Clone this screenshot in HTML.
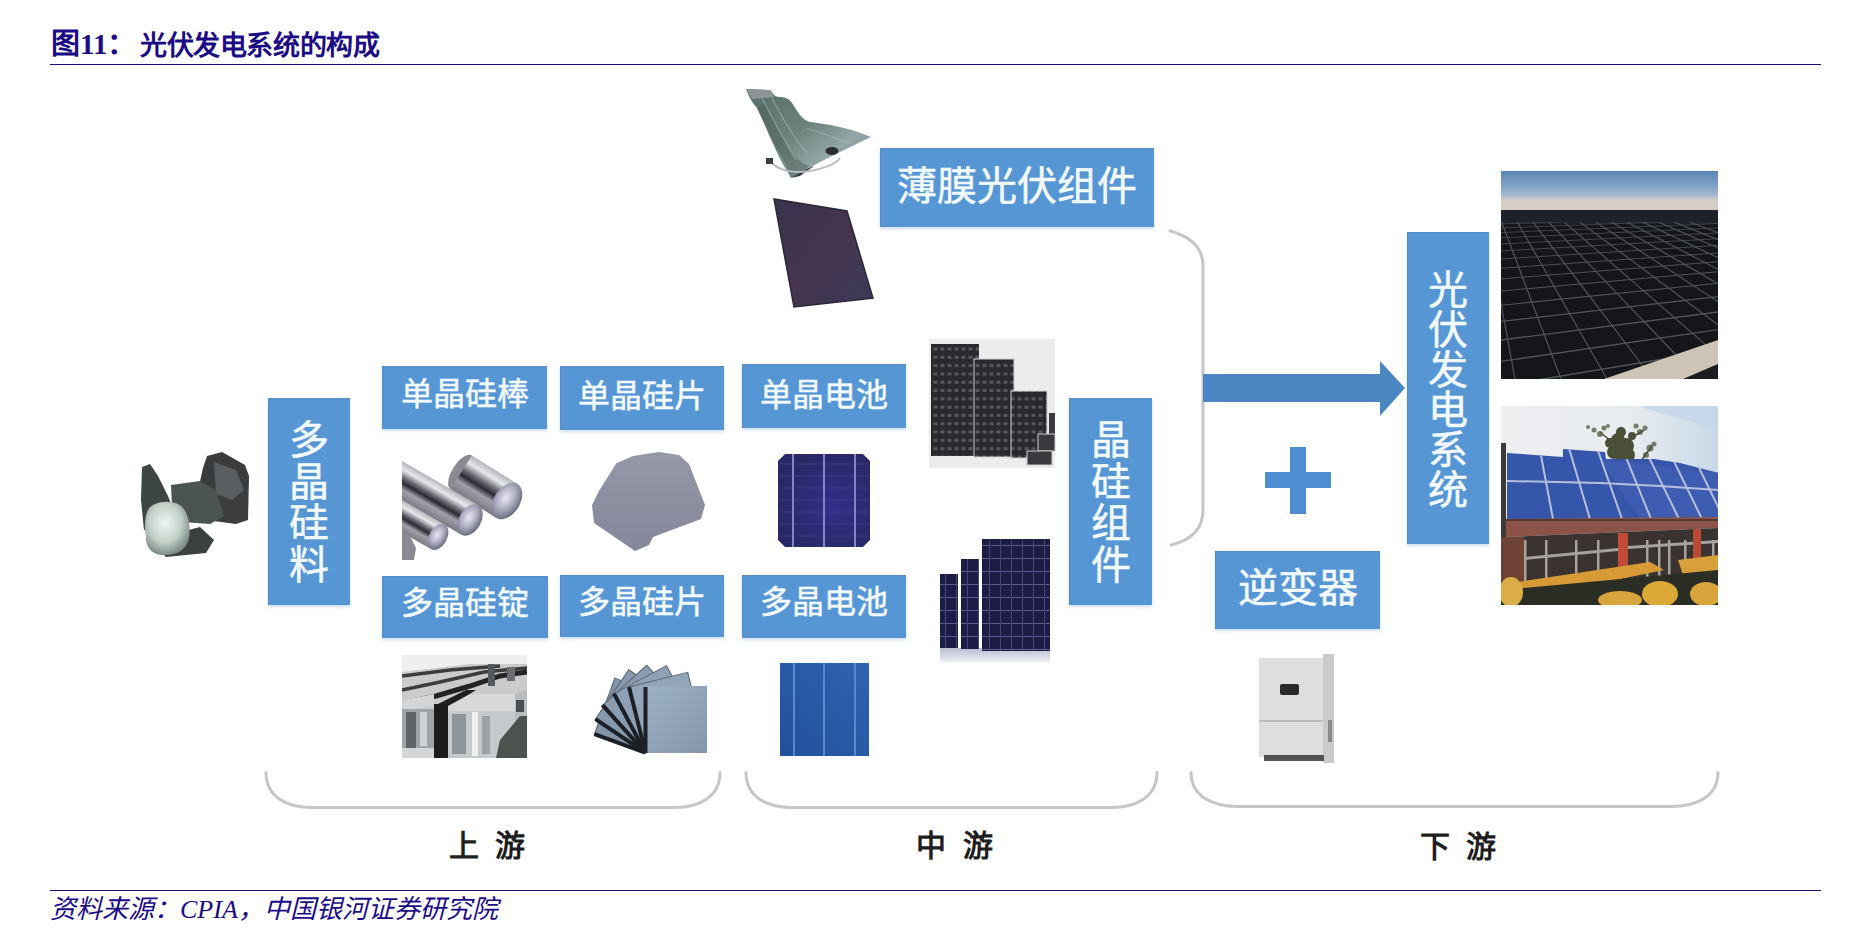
<!DOCTYPE html>
<html lang="zh-CN">
<head>
<meta charset="utf-8">
<style>
html,body{margin:0;padding:0;background:#fff;}
body{width:1872px;height:944px;position:relative;overflow:hidden;font-family:"Liberation Serif",serif;}
.a{position:absolute;}
.title{left:51px;top:25px;font-size:29px;font-weight:bold;color:#1b0b84;white-space:nowrap;line-height:38px;}
.hr{left:50px;width:1771px;height:1px;background:#1b0b84;}
.src{left:50px;top:893px;font-size:26px;font-style:italic;color:#1b0b84;white-space:nowrap;line-height:34px;}
.box{position:absolute;background:#5796d4;color:#f2faff;text-align:center;box-shadow:inset 1px 1px 0 rgba(90,120,160,.35),0 2px 3px rgba(170,200,235,.6);}
.h{font-size:32px;line-height:32px;-webkit-text-stroke:0.5px #f2faff;}
.v{font-size:40px;line-height:40px;-webkit-text-stroke:0.5px #f2faff;}
.vv{font-size:40px;line-height:41.5px;-webkit-text-stroke:0.5px #f2faff;}
.lbl{position:absolute;font-size:30px;font-weight:bold;color:#1e1e1e;white-space:nowrap;line-height:30px;}
svg{position:absolute;left:0;top:0;}
</style>
</head>
<body>
<div class="a title">图11：</div><div class="a title" style="left:140px;top:27px;font-size:27px;letter-spacing:-0.4px;">光伏发电系统的构成</div>
<div class="a hr" style="top:64px"></div>

<svg width="1872" height="944" viewBox="0 0 1872 944">
 <!-- braces -->
 <g fill="none" stroke="#c6c6c8" stroke-width="3" stroke-linecap="round">
  <path d="M1170,231 C1192,237 1203,249 1203,266 L1203,510 C1203,528 1192,540 1171,545"/>
  <path d="M266,772.5 C266,797 287,807.5 312,807.5 L674,807.5 C699,807.5 720,797 720,772.5"/>
  <path d="M746,772.5 C746,797 767,807.5 792,807.5 L1111,807.5 C1136,807.5 1157,797 1157,772.5"/>
  <path d="M1191,772.5 C1191,796 1212,806.5 1238,806.5 L1672,806.5 C1697,806.5 1718,796 1718,772.5"/>
 </g>
 <!-- arrow -->
 <path d="M1203,374 L1380,374 L1380,361 L1405,388 L1380,416 L1380,402 L1203,402 Z" fill="#4a86c2"/>
 <!-- plus -->
 <rect x="1290" y="447" width="16" height="67" fill="#4e8dd0"/>
 <rect x="1265" y="472" width="66" height="16" fill="#4e8dd0"/>
</svg>


<!-- IMAGES -->
<svg width="1872" height="944" viewBox="0 0 1872 944">
 <defs>
  <radialGradient id="gPolyLight" cx="0.45" cy="0.4" r="0.6">
   <stop offset="0" stop-color="#eef5f1"/><stop offset="0.6" stop-color="#c2d0c8"/><stop offset="1" stop-color="#7d8c85"/>
  </radialGradient>
  <linearGradient id="gRod" x1="0" y1="0" x2="0" y2="1">
   <stop offset="0" stop-color="#b4b4ba"/><stop offset="0.2" stop-color="#e8e8ec"/><stop offset="0.4" stop-color="#6c6c76"/>
   <stop offset="0.55" stop-color="#2a2a34"/><stop offset="0.72" stop-color="#a0a0aa"/><stop offset="1" stop-color="#7a7a86"/>
  </linearGradient>
  <radialGradient id="gCap" cx="0.4" cy="0.45" r="0.6">
   <stop offset="0" stop-color="#e8e8f2"/><stop offset="0.5" stop-color="#b0b0c4"/><stop offset="1" stop-color="#6a6a7c"/>
  </radialGradient>
  <linearGradient id="gWafer" x1="0" y1="0" x2="0" y2="1">
   <stop offset="0" stop-color="#9698a8"/><stop offset="1" stop-color="#84869a"/>
  </linearGradient>
  <linearGradient id="gTF" x1="0" y1="0" x2="1" y2="1">
   <stop offset="0" stop-color="#38344e"/><stop offset="0.5" stop-color="#46344e"/><stop offset="1" stop-color="#3a3a58"/>
  </linearGradient>
  <linearGradient id="gFlex" x1="0" y1="0" x2="1" y2="1">
   <stop offset="0" stop-color="#566c64"/><stop offset="0.45" stop-color="#6c847c"/><stop offset="0.7" stop-color="#94a6a8"/><stop offset="1" stop-color="#727a88"/>
  </linearGradient>
  <linearGradient id="gSky" x1="0" y1="0" x2="0" y2="1">
   <stop offset="0" stop-color="#5a84b6"/><stop offset="0.5" stop-color="#7ea0c4"/><stop offset="1" stop-color="#b4c4d4"/>
  </linearGradient>
  <linearGradient id="gSky2" x1="0" y1="0" x2="1" y2="0">
   <stop offset="0" stop-color="#eceef0"/><stop offset="0.6" stop-color="#e8ebef"/><stop offset="1" stop-color="#c8d8e8"/>
  </linearGradient>
  <linearGradient id="gWaferB" x1="0" y1="0" x2="1" y2="1">
   <stop offset="0" stop-color="#9cb0c4"/><stop offset="1" stop-color="#8496ac"/>
  </linearGradient>
  <radialGradient id="gMonoCell" cx="0.6" cy="0.55" r="0.6">
   <stop offset="0" stop-color="#32308a"/><stop offset="1" stop-color="#2a2864"/>
  </radialGradient>
  <linearGradient id="gPolyCell" x1="0" y1="1" x2="1" y2="0">
   <stop offset="0" stop-color="#22509c"/><stop offset="1" stop-color="#2e64b0"/>
  </linearGradient>
  <linearGradient id="gRefl" x1="0" y1="0" x2="0" y2="1">
   <stop offset="0" stop-color="#b8bccc"/><stop offset="1" stop-color="#eeeef4"/>
  </linearGradient>
  <pattern id="pMono" x="932" y="345" width="7" height="8.3" patternUnits="userSpaceOnUse">
   <rect width="7" height="8.3" fill="#2a2a2e"/><rect x="1.5" y="2.5" width="4" height="3" fill="#56565c"/>
  </pattern>
  <pattern id="pPoly" x="0" y="0" width="11" height="13" patternUnits="userSpaceOnUse">
   <rect width="11" height="13" fill="#1c1c44"/><rect x="0" y="12" width="11" height="1" fill="#5a5a90"/><rect x="10" y="0" width="1" height="13" fill="#44447a"/>
  </pattern>
 </defs>

 <!-- 1 polysilicon chunks -->
 <g>
  <polygon points="142,467 150,464 158,476 168,496 174,512 160,526 144,530 141,500" fill="#3c4541"/>
  <polygon points="207,456 222,452 245,465 249,476 248,520 236,524 214,521 204,505 199,486 203,468" fill="#3a3c3e"/>
  <polygon points="214,462 236,470 244,490 232,500 216,494" fill="#5a5e60"/>
  <polygon points="171,485 200,481 216,490 224,516 210,524 182,522 172,506" fill="#4b544f"/>
  <polygon points="150,540 200,527 214,540 206,553 166,557" fill="#3c403e"/>
  <path d="M147,512 C150,503 165,499 178,504 C188,509 191,524 189,538 C187,550 176,556 162,555 C150,554 145,545 146,535 C144,528 145,518 147,512 Z" fill="url(#gPolyLight)"/>
 </g>

 <!-- 2 mono rods -->
 <clipPath id="cRods"><rect x="402" y="440" width="140" height="125"/></clipPath>
 <g clip-path="url(#cRods)">
  <g transform="translate(507,501) rotate(32)">
   <ellipse cx="-54" cy="0" rx="9" ry="20" fill="#8a8a92"/>
   <rect x="-54" y="-20" width="54" height="40" fill="url(#gRod)"/>
   <ellipse cx="0" cy="0" rx="13" ry="20" fill="url(#gCap)"/>
  </g>
  <g transform="translate(470,520) rotate(30)">
   <rect x="-90" y="-17" width="90" height="34" fill="url(#gRod)"/>
   <ellipse cx="0" cy="0" rx="11" ry="17" fill="url(#gCap)"/>
  </g>
  <g transform="translate(438,537) rotate(30)">
   <rect x="-60" y="-14" width="60" height="28" fill="url(#gRod)"/>
   <ellipse cx="0" cy="0" rx="9" ry="14" fill="url(#gCap)"/>
  </g>
  <polygon points="402,532 410,536 416,548 414,560 402,560" fill="#8a8a94"/>
 </g>

 <!-- 3 mono wafer -->
 <polygon points="617,463 633,456 659,452 679,455 689,464 705,505 701,519 653,537 649,545 635,551 594,523 592,505 598,493" fill="url(#gWafer)"/>
 <polyline points="598,493 617,463" stroke="#9ea0ae" stroke-width="1" fill="none"/>

 <!-- 4 mono cell -->
 <g>
  <polygon points="785,454 863,454 870,461 870,540 863,547 785,547 778,540 778,461" fill="url(#gMonoCell)"/>
  <g stroke="#4a48a0" stroke-width="0.8" opacity="0.7"><line x1="779" y1="464" x2="869" y2="464"/><line x1="779" y1="476" x2="869" y2="476"/><line x1="779" y1="488" x2="869" y2="488"/><line x1="779" y1="500" x2="869" y2="500"/><line x1="779" y1="512" x2="869" y2="512"/><line x1="779" y1="524" x2="869" y2="524"/><line x1="779" y1="536" x2="869" y2="536"/></g>
  <rect x="792" y="454" width="2" height="93" fill="#8482c8"/>
  <rect x="823" y="454" width="2" height="93" fill="#8482c8"/>
  <rect x="854" y="454" width="2" height="93" fill="#8482c8"/>
 </g>

 <!-- 5 poly ingots -->
 <clipPath id="cIngot"><rect x="402" y="655" width="125" height="103"/></clipPath>
 <g clip-path="url(#cIngot)">
  <rect x="402" y="655" width="125" height="103" fill="#eeefef"/>
  <polygon points="402,672 470,664 527,664 527,702 402,712" fill="#c9cbcd"/>
  <g stroke="#3a3c3e" stroke-width="3.5" fill="none">
   <path d="M402,690 L440,682 L484,672 L527,668"/>
   <path d="M402,676 L450,670 L500,666"/>
  </g>
  <g stroke="#222426" stroke-width="5" fill="none">
   <path d="M402,703 L436,696 L470,686 L500,676 L527,672"/>
  </g>
  <rect x="488" y="664" width="7" height="22" fill="#555a5e"/>
  <rect x="507" y="667" width="8" height="14" fill="#6a6e72"/>
  <polygon points="434,706 466,690 476,690 448,708" fill="#1e2022"/>
  <rect x="434" y="704" width="14" height="54" fill="#1a1c1e"/>
  <polygon points="448,706 470,694 515,694 515,712 448,712" fill="#d6d8da"/>
  <rect x="448" y="711" width="68" height="47" fill="#c6cacc"/>
  <rect x="452" y="714" width="14" height="40" fill="#8e969c"/>
  <rect x="472" y="712" width="6" height="44" fill="#eef0f0"/>
  <rect x="482" y="716" width="8" height="38" fill="#9aa2a8"/>
  <polygon points="402,700 434,694 434,706 402,710" fill="#d2d4d6"/>
  <rect x="402" y="709" width="32" height="40" fill="#9ea4a8"/>
  <rect x="406" y="712" width="10" height="36" fill="#5e6468"/>
  <rect x="420" y="712" width="7" height="34" fill="#d0d4d6"/>
  <rect x="402" y="748" width="32" height="10" fill="#d4d6d6"/>
  <polygon points="515,694 527,690 527,758 515,758" fill="#b8bcbe"/>
  <polygon points="500,740 520,716 527,716 527,758 496,758" fill="#4c524e"/>
  <rect x="516" y="700" width="8" height="12" fill="#4a4e52"/>
 </g>

 <!-- 6 poly wafer fan -->
 <g transform="translate(645,753)">
  <g transform="rotate(-70)"><rect x="0" y="-54" width="60" height="54" fill="#8294a8" stroke="#5a6672" stroke-width="1"/><rect x="-1.5" y="-54" width="4" height="54" fill="#1c2026"/></g><g transform="rotate(-56)"><rect x="0" y="-60" width="60" height="60" fill="#8698ac" stroke="#5a6672" stroke-width="1"/><rect x="-1.5" y="-60" width="4" height="60" fill="#1c2026"/></g><g transform="rotate(-42)"><rect x="0" y="-64" width="60" height="64" fill="#8a9cb0" stroke="#5a6672" stroke-width="1"/><rect x="-1.5" y="-64" width="4" height="64" fill="#1c2026"/></g><g transform="rotate(-28)"><rect x="0" y="-67" width="60" height="67" fill="#8ea0b4" stroke="#5a6672" stroke-width="1"/><rect x="-1.5" y="-67" width="4" height="67" fill="#1c2026"/></g><g transform="rotate(-14)"><rect x="0" y="-68" width="61" height="68" fill="#92a4b8" stroke="#5a6672" stroke-width="1"/><rect x="-1.5" y="-68" width="4" height="68" fill="#1c2026"/></g>
  <rect x="1" y="-67" width="61" height="67" fill="url(#gWaferB)"/>
  <rect x="-1.5" y="-66" width="4" height="66" fill="#1c2026"/>
 </g>

 <!-- 7 poly cell -->
 <g>
  <rect x="780" y="663" width="89" height="93" fill="url(#gPolyCell)"/>
  <rect x="793" y="663" width="2" height="93" fill="#5a88c8"/>
  <rect x="823" y="663" width="2" height="93" fill="#5a88c8"/>
  <rect x="854" y="663" width="2" height="93" fill="#5a88c8"/>
 </g>

 <!-- 8 mono modules -->
 <g>
  <rect x="929" y="339" width="126" height="129" fill="#ececec"/>
  <rect x="931" y="344" width="48" height="112" fill="url(#pMono)"/>
  <rect x="974" y="359" width="40" height="98" fill="url(#pMono)" stroke="#cfcfcf" stroke-width="1"/>
  <rect x="1011" y="391" width="36" height="67" fill="url(#pMono)" stroke="#cfcfcf" stroke-width="1"/>
  <rect x="1049" y="413" width="6" height="22" fill="#3a3a3e"/>
  <rect x="1038" y="434" width="17" height="17" fill="#3a3a3e" stroke="#cfcfcf" stroke-width="1"/>
  <rect x="1027" y="451" width="25" height="14" fill="#3a3a3e" stroke="#cfcfcf" stroke-width="1"/>
 </g>

 <!-- 9 poly modules -->
 <g>
  <rect x="940" y="648" width="110" height="14" fill="url(#gRefl)"/>
  <rect x="940" y="574" width="18" height="74" fill="url(#pPoly)"/>
  <rect x="961" y="559" width="18" height="90" fill="url(#pPoly)"/>
  <rect x="982" y="539" width="68" height="112" fill="url(#pPoly)"/>
 </g>

 <!-- 10 flexible thin film -->
 <path d="M746,89 L770,90 C773,93 774,96 778,97 C784,97 789,98 792,103 C797,111 802,120 810,122 C825,124 845,126 871,137 C860,142 850,147 838,153 C820,162 805,170 791,178 C786,170 780,160 775,148 C768,133 762,118 757,108 C754,104 750,100 746,89 Z" fill="url(#gFlex)"/>
 <path d="M757,108 C765,125 772,140 778,150 C784,160 788,170 791,178 C797,174 803,170 810,166 C798,164 790,150 783,138 C776,126 770,114 765,104 Z" fill="#50625c" opacity="0.55"/>
 <g stroke="#a8bcb8" stroke-width="1.3" opacity="0.55" fill="none">
  <path d="M762,98 C772,118 784,140 796,160"/>
  <path d="M772,98 C782,118 794,138 808,155"/>
  <path d="M806,128 C820,132 835,138 850,143"/>
 </g>
 <path d="M746,89 L770,90 C772,93 773,95 775,97 L752,99 Z" fill="#8c9696"/>
 <path d="M791,178 C800,172 808,168 814,166 L800,176 Z" fill="#3a4240"/>
 <ellipse cx="832" cy="151" rx="6.5" ry="4" fill="#2a2e32"/>
 <path d="M771,162 C778,170 792,174 810,171 C826,168 836,164 840,158" stroke="#b8bcc0" stroke-width="2" fill="none"/>
 <rect x="766" y="158" width="7" height="6" fill="#3a3e42"/>

 <!-- 11 glass thin film -->
 <polygon points="774,199 847,211 873,298 794,307" fill="url(#gTF)" stroke="#2a2838" stroke-width="1.5"/>

 <!-- 12 solar farm photo -->
 <g>
  <rect x="1501" y="171" width="217" height="208" fill="#141619"/>
  <rect x="1501" y="171" width="217" height="28" fill="url(#gSky)"/>
  <rect x="1501" y="198" width="217" height="12" fill="#d4cec4"/>
  <rect x="1501" y="197" width="217" height="3" fill="#c4c8cc" opacity="0.7"/>
  <rect x="1501" y="210" width="217" height="14" fill="#1e2229"/>
  <clipPath id="cFarm"><rect x="1501" y="222" width="217" height="157"/></clipPath>
  <g stroke="#50545a" fill="none" clip-path="url(#cFarm)">
   <g stroke-width="1.2">
<line x1="1454.7" y1="222" x2="1423.0" y2="379"/>
<line x1="1470.3" y1="222" x2="1469.0" y2="379"/>
<line x1="1486.0" y1="222" x2="1515.0" y2="379"/>
<line x1="1501.6" y1="222" x2="1561.0" y2="379"/>
<line x1="1517.3" y1="222" x2="1607.0" y2="379"/>
<line x1="1532.9" y1="222" x2="1653.0" y2="379"/>
<line x1="1548.6" y1="222" x2="1699.0" y2="379"/>
<line x1="1564.3" y1="222" x2="1745.0" y2="379"/>
<line x1="1579.9" y1="222" x2="1791.0" y2="379"/>
<line x1="1595.6" y1="222" x2="1837.0" y2="379"/>
<line x1="1611.2" y1="222" x2="1883.0" y2="379"/>
<line x1="1626.9" y1="222" x2="1929.0" y2="379"/>
<line x1="1642.5" y1="222" x2="1975.0" y2="379"/>
<line x1="1658.2" y1="222" x2="2021.0" y2="379"/>
<line x1="1673.8" y1="222" x2="2067.0" y2="379"/>
<line x1="1689.5" y1="222" x2="2113.0" y2="379"/>
   </g>
<line x1="1501" y1="224.0" x2="1718" y2="216.4" stroke-width="0.63"/>
<line x1="1501" y1="228.0" x2="1718" y2="219.7" stroke-width="0.66"/>
<line x1="1501" y1="232.6" x2="1718" y2="223.5" stroke-width="0.68"/>
<line x1="1501" y1="237.9" x2="1718" y2="227.9" stroke-width="0.71"/>
<line x1="1501" y1="244.0" x2="1718" y2="232.9" stroke-width="0.75"/>
<line x1="1501" y1="251.0" x2="1718" y2="238.6" stroke-width="0.79"/>
<line x1="1501" y1="259.0" x2="1718" y2="245.3" stroke-width="0.83"/>
<line x1="1501" y1="268.3" x2="1718" y2="252.9" stroke-width="0.88"/>
<line x1="1501" y1="278.9" x2="1718" y2="261.7" stroke-width="0.94"/>
<line x1="1501" y1="291.1" x2="1718" y2="271.7" stroke-width="1.01"/>
<line x1="1501" y1="305.2" x2="1718" y2="283.3" stroke-width="1.09"/>
<line x1="1501" y1="321.4" x2="1718" y2="296.7" stroke-width="1.18"/>
<line x1="1501" y1="340.0" x2="1718" y2="312.0" stroke-width="1.29"/>
<line x1="1501" y1="361.4" x2="1718" y2="329.6" stroke-width="1.41"/>
<line x1="1501" y1="386.0" x2="1718" y2="349.9" stroke-width="1.50"/>
<line x1="1501" y1="414.3" x2="1718" y2="374.0" stroke-width="1.50"/>
  </g>
  <polygon points="1604,379 1718,340 1718,379" fill="#cdc4b6"/>
  <polygon points="1683,379 1718,364 1718,379" fill="#1a1c20"/>
 </g>

 <!-- 13 rooftop photo -->
 <clipPath id="cPhoto2"><rect x="1501" y="406" width="217" height="199"/></clipPath>
 <g clip-path="url(#cPhoto2)">
  <rect x="1501" y="406" width="217" height="199" fill="url(#gSky2)"/>
  <path d="M1640,406 L1718,406 L1718,430 C1690,420 1660,414 1640,406 Z" fill="#c4d6ea" opacity="0.8"/>
  <g><circle cx="1618" cy="440" r="7" fill="#4a5038"/><circle cx="1626" cy="446" r="8" fill="#4a5038"/><circle cx="1614" cy="452" r="7" fill="#4a5038"/><circle cx="1628" cy="455" r="7" fill="#4a5038"/><circle cx="1621" cy="432" r="5" fill="#4a5038"/><circle cx="1632" cy="436" r="4" fill="#4a5038"/><circle cx="1610" cy="443" r="5" fill="#4a5038"/><circle cx="1622" cy="458" r="6" fill="#4a5038"/><circle cx="1600" cy="434" r="3" fill="#5a6048" opacity="0.8"/><circle cx="1594" cy="430" r="2.5" fill="#5a6048" opacity="0.8"/><circle cx="1588" cy="427" r="2" fill="#5a6048" opacity="0.8"/><circle cx="1604" cy="428" r="2.5" fill="#5a6048" opacity="0.8"/><circle cx="1640" cy="432" r="3" fill="#5a6048" opacity="0.8"/><circle cx="1645" cy="428" r="2.5" fill="#5a6048" opacity="0.8"/><circle cx="1650" cy="448" r="3.5" fill="#5a6048" opacity="0.8"/><circle cx="1654" cy="444" r="2.5" fill="#5a6048" opacity="0.8"/><circle cx="1646" cy="455" r="3" fill="#5a6048" opacity="0.8"/><circle cx="1636" cy="426" r="2.5" fill="#5a6048" opacity="0.8"/><circle cx="1608" cy="426" r="2" fill="#5a6048" opacity="0.8"/><path d="M1620,462 L1619,440 M1619,448 L1600,432 M1622,444 L1644,430 M1640,462 L1652,446" stroke="#4a4e3a" stroke-width="1.5" fill="none"/></g>
  <rect x="1501" y="443" width="5" height="162" fill="#3e3a36"/>
  <polygon points="1507,453 1563,457 1563,449 1605,452 1606,459 1654,459 1680,463 1719,473 1719,519 1507,519" fill="#3656ac"/>
  <polygon points="1600,459 1719,473 1719,519 1640,519" fill="#4460b4" opacity="0.6"/>
  <clipPath id="cRoof"><polygon points="1507,453 1563,457 1563,449 1605,452 1606,459 1654,459 1680,463 1719,473 1719,519 1507,519"/></clipPath>
  <g stroke="#b4c0dc" stroke-width="2" fill="none" clip-path="url(#cRoof)">
   <path d="M1507,481 L1600,483 L1660,486 L1719,490"/>
   <line x1="1553" y1="519" x2="1539" y2="445"/><line x1="1590" y1="519" x2="1568" y2="445"/><line x1="1622" y1="519" x2="1596" y2="445"/><line x1="1651" y1="519" x2="1621" y2="445"/><line x1="1679" y1="519" x2="1643" y2="445"/><line x1="1702" y1="519" x2="1666" y2="445"/><line x1="1724" y1="519" x2="1688" y2="445"/>
  </g>
  <polygon points="1506,519 1719,517 1719,528 1506,537" fill="#8c5448"/>
  <rect x="1506" y="519" width="213" height="2" fill="#5a3a34"/>
  <polygon points="1506,537 1719,528 1719,575 1506,585" fill="#3a3330"/>
  <polygon points="1524,557 1618,548 1618,551 1524,560" fill="#a4a49c"/>
  <polygon points="1628,546 1719,540 1719,543 1628,549" fill="#a4a49c"/>
  <g fill="#a4a49c"><rect x="1524" y="540" width="2.5" height="45"/><rect x="1545" y="540" width="2.5" height="45"/><rect x="1575" y="540" width="2.5" height="45"/><rect x="1597" y="540" width="2.5" height="45"/><rect x="1646" y="540" width="2.5" height="45"/><rect x="1658" y="540" width="2.5" height="45"/><rect x="1668" y="540" width="2.5" height="45"/><rect x="1684" y="540" width="2.5" height="45"/><rect x="1712" y="540" width="2.5" height="45"/></g>
  <rect x="1501" y="537" width="23" height="50" fill="#6e4234"/>
  <rect x="1618" y="533" width="10" height="45" fill="#c04a36"/>
  <rect x="1693" y="529" width="8" height="33" fill="#b84a36"/>
  <polygon points="1518,582 1650,562 1664,570 1528,598" fill="#d89a34"/>
  <polygon points="1678,560 1719,555 1719,575 1684,578" fill="#d8a03a"/>
  <polygon points="1501,590 1719,570 1719,605 1501,605" fill="#2a2e24"/>
  <ellipse cx="1511" cy="592" rx="12" ry="15" fill="#dcae48"/>
  <ellipse cx="1620" cy="600" rx="22" ry="9" fill="#d8a43c"/>
  <ellipse cx="1660" cy="594" rx="18" ry="13" fill="#dca838"/>
  <ellipse cx="1706" cy="594" rx="16" ry="12" fill="#d8a43c"/>
 </g>

 <!-- 14 inverter -->
 <g>
  <rect x="1323" y="654" width="11" height="109" fill="#cacaca"/>
  <rect x="1259" y="658" width="64" height="99" fill="#dedede"/>
  <rect x="1259" y="720" width="64" height="2" fill="#bdbdbd"/>
  <rect x="1280" y="684" width="19" height="11" rx="2" fill="#2a2a2a"/>
  <rect x="1264" y="755" width="60" height="6" fill="#505050"/>
  <rect x="1328" y="720" width="4" height="22" fill="#8a8a8a"/>
 </g>
</svg>

<!-- boxes -->
<div class="box vv" style="left:268px;top:398px;width:82px;height:207px;"><div style="padding-top:22px;">多<br>晶<br>硅<br>料</div></div>
<div class="box h" style="left:382px;top:366px;width:165px;height:63px;"><div style="padding-top:12px;">单晶硅棒</div></div>
<div class="box h" style="left:560px;top:366px;width:164px;height:64px;"><div style="padding-top:14px;">单晶硅片</div></div>
<div class="box h" style="left:742px;top:364px;width:164px;height:64px;"><div style="padding-top:15px;">单晶电池</div></div>
<div class="box h" style="left:382px;top:576px;width:166px;height:62px;"><div style="padding-top:11px;">多晶硅锭</div></div>
<div class="box h" style="left:560px;top:575px;width:164px;height:62px;"><div style="padding-top:11px;">多晶硅片</div></div>
<div class="box h" style="left:742px;top:575px;width:164px;height:63px;"><div style="padding-top:11px;">多晶电池</div></div>
<div class="box v" style="left:880px;top:148px;width:274px;height:79px;"><div style="padding-top:19px;">薄膜光伏组件</div></div>
<div class="box vv" style="left:1069px;top:398px;width:83px;height:207px;"><div style="padding-top:22px;">晶<br>硅<br>组<br>件</div></div>
<div class="box v" style="left:1407px;top:232px;width:82px;height:312px;"><div style="padding-top:39px;">光<br>伏<br>发<br>电<br>系<br>统</div></div>
<div class="box v" style="left:1215px;top:551px;width:165px;height:78px;"><div style="padding-top:18px;">逆变器</div></div>

<!-- labels -->
<div class="lbl" style="left:449px;top:831px;">上</div><div class="lbl" style="left:495px;top:831px;">游</div>
<div class="lbl" style="left:916px;top:831px;">中</div><div class="lbl" style="left:963px;top:831px;">游</div>
<div class="lbl" style="left:1420px;top:832px;">下</div><div class="lbl" style="left:1466px;top:832px;">游</div>

<div class="a hr" style="top:890px"></div>
<div class="a src">资料来源：CPIA，中国银河证券研究院</div>
</body>
</html>
